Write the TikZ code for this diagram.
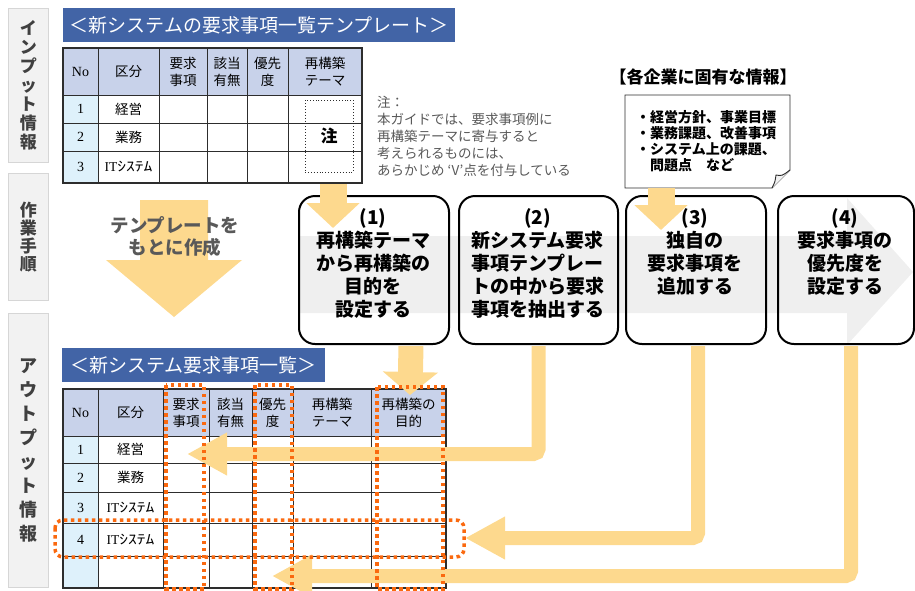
\documentclass[tikz,border=0pt]{standalone}
\usepackage{fontspec}
\setmainfont{Noto Sans CJK JP}
\newfontfamily\serifl{Liberation Serif}
\usetikzlibrary{arrows.meta}
\definecolor{titleblue}{RGB}{66,100,166}
\definecolor{hdrfill}{RGB}{200,210,234}
\definecolor{nofill}{RGB}{222,241,251}
\definecolor{lblfill}{RGB}{242,242,242}
\definecolor{lblborder}{RGB}{214,214,214}
\definecolor{flow}{RGB}{253,217,142}
\definecolor{dotorange}{RGB}{250,105,15}
\definecolor{bandgray}{RGB}{239,239,239}
\definecolor{txtgray}{RGB}{89,89,89}
\definecolor{lbltext}{RGB}{64,64,64}
\definecolor{gridc}{RGB}{45,45,45}
\newcommand{\fsz}[2]{\fontsize{#1}{#2}\selectfont}
\newcommand{\itsys}{{\serifl IT}\scalebox{1.3}[1]{ｼｽﾃﾑ}}
\begin{document}
\begin{tikzpicture}[x=1pt,y=-1pt,
  lbl/.style={draw=lblborder, fill=lblfill, line width=0.8pt, anchor=north west, inner sep=0pt, align=center, text=lbltext, font=\bfseries\fsz{17}{19}},
  titlebar/.style={fill=titleblue, text=white, anchor=north west, inner sep=0pt, font=\fsz{19}{19}},
  cell/.style={inner sep=0pt, align=center, font=\fsz{13.5}{17}, text=black},
  latin/.style={inner sep=0pt, font=\serifl\fsz{14}{16}, text=black},
  stepbox/.style={draw=black, line width=2pt, rounded corners=16pt, anchor=north west, inner sep=0pt, minimum height=148pt},
  steptext/.style={anchor=north, inner sep=0pt, align=center, font=\bfseries\fsz{19}{23}},
  vflow/.style={color=flow, line width=27pt, -{Triangle[length=25pt,width=52pt]}},
  vflowb/.style={color=flow, line width=25pt, -{Triangle[length=23pt,width=54pt]}},
  bflow/.style={color=flow, line width=14pt, rounded corners=5pt, -{Triangle[length=40pt,width=40pt]}},
  odot/.style={draw=dotorange, line width=3.5pt, dash pattern=on 3.5pt off 3.5pt},
  grid/.style={draw=gridc, line width=1pt}
]
\useasboundingbox (0,0) rectangle (915,590);
\clip (0,0) rectangle (915,590);

% side labels
\node[lbl, minimum width=40pt, minimum height=154pt] (lin) at (8,8) {イ\\ン\\プ\\ッ\\ト\\情\\報};
\node[lbl, minimum width=40pt, minimum height=127pt, font=\bfseries\fsz{17}{18}] (lwork) at (8,173) {作\\業\\手\\順};
\node[lbl, minimum width=40pt, minimum height=274pt, font=\bfseries\fsz{18}{24}] (lout) at (8,313) {ア\\ウ\\ト\\プ\\ッ\\ト\\情\\報};

% top title and table
\node[titlebar, minimum width=392pt, minimum height=34pt] (t1) at (63,8) {＜新システムの要求事項一覧テンプレート＞};
\fill[hdrfill] (63,48) rectangle (362,95);
\fill[nofill] (63,95) rectangle (98,183);
\foreach \x in {98,159,207,247,288} \draw[grid] (\x,48) -- (\x,183);
\foreach \y in {95,123,151} \draw[grid] (63,\y) -- (362,\y);
\draw[gridc, line width=1.5pt] (63,48) rectangle (362,183);
\node[latin] (tno) at (80.5,71.5) {No};
\node[cell] (tkb) at (128.5,71.5) {区分};
\node[cell] (tyk) at (183,71.5) {要求\\事項};
\node[cell] (tgt) at (227,71.5) {該当\\有無};
\node[cell] (tyu) at (267.5,71.5) {優先\\度};
\node[cell] (tsk) at (325,71.5) {再構築\\テーマ};
\node[latin] (tn1) at (80.5,109) {1}; \node[cell] (tc1) at (128.5,109) {経営};
\node[latin] (tn2) at (80.5,137) {2}; \node[cell] (tc2) at (128.5,137) {業務};
\node[latin] (tn3) at (80.5,167) {3}; \node[cell] (tc3) at (128.5,167) {\itsys};
\node[draw=gridc, dotted, line width=0.9pt, minimum width=48pt, minimum height=72pt, inner sep=0pt, font=\bfseries\fsz{17}{17}] (chu) at (329,136) {注};

% note
\node[anchor=north west, inner sep=0pt, align=left, text=txtgray, font=\fsz{13.5}{17}] (note) at (377,96) {注：\\本ガイドでは、要求事項例に\\再構築テーマに寄与すると\\考えられるものには、\\あらかじめ ‘V’点を付与している};

% company info
\node[inner sep=0pt, font=\bfseries\fsz{17}{17}] (infoh) at (703,77) {【各企業に固有な情報】};
\draw[draw=gridc, line width=0.9pt, fill=white] (625,95) -- (790,95) -- (790,170) -- (772,188) -- (625,188) -- cycle;
\draw[draw=gridc, line width=0.9pt, fill=lblfill] (772,188) .. controls (775,182) .. (776,175) .. controls (782,176) .. (790,170);
\node[anchor=north west, inner sep=0pt, align=left, font=\bfseries\fsz{14}{16}] (info) at (636,110) {・経営方針、事業目標\\・業務課題、改善事項\\・システム上の課題、\\　問題点　など};

% process band
\fill[bandgray] (300,236) -- (847,236) -- (847,198) -- (913,272) -- (847,345) -- (847,313) -- (300,313) -- cycle;

% template arrow
\fill[color=flow] (140,200) -- (208,200) -- (208,260) -- (242,260) -- (174,317) -- (106,260) -- (140,260) -- cycle;
\node[inner sep=0pt, align=center, text=txtgray, font=\bfseries\fsz{18.5}{22}] (tmpl) at (175,236) {テンプレートを\\もとに作成};

% step boxes
\node[stepbox, minimum width=150pt] (s1) at (298,195) {};
\node[stepbox, minimum width=159pt] (s2) at (458,195) {};
\node[stepbox, minimum width=140pt] (s3) at (625,195) {};
\node[stepbox, minimum width=136pt] (s4) at (777,195) {};
\node[steptext] (s1t) at (373,208.5) {(1)\\再構築テーマ\\から再構築の\\目的を\\設定する};
\node[steptext] (s2t) at (537.5,208.5) {(2)\\新システム要求\\事項テンプレー\\トの中から要求\\事項を抽出する};
\node[steptext] (s3t) at (695,208.5) {(3)\\独自の\\要求事項を\\追加する};
\node[steptext] (s4t) at (845,208.5) {(4)\\要求事項の\\優先度を\\設定する};

% input arrows
\coordinate (a1s) at (333,184); \coordinate (a1e) at (333,228);
\draw[vflow] (a1s) -- (a1e);
\coordinate (a3s) at (661,188); \coordinate (a3e) at (661,230);
\draw[vflow] (a3s) -- (a3e);

% bottom title and table
\node[titlebar, minimum width=263pt, minimum height=34pt] (t2) at (62,348) {＜新システム要求事項一覧＞};
\fill[hdrfill] (63,389) rectangle (446,436);
\fill[nofill] (63,436) rectangle (98,588);
\foreach \x in {98,163,209,252,293,371} \draw[grid] (\x,389) -- (\x,588);
\foreach \y in {436,463,492,523,556} \draw[grid] (63,\y) -- (446,\y);
\draw[gridc, line width=1.5pt] (63,389) rectangle (446,588);
\node[latin] (bno) at (80.5,412.5) {No};
\node[cell] (bkb) at (130.5,412.5) {区分};
\node[cell] (byk) at (186,412.5) {要求\\事項};
\node[cell] (bgt) at (230.5,412.5) {該当\\有無};
\node[cell] (byu) at (272.5,412.5) {優先\\度};
\node[cell] (bsk) at (332,412.5) {再構築\\テーマ};
\node[cell] (bmk) at (408.5,412.5) {再構築の\\目的};
\node[latin] (bn1) at (80.5,449.5) {1}; \node[cell] (bc1) at (130.5,449.5) {経営};
\node[latin] (bn2) at (80.5,477.5) {2}; \node[cell] (bc2) at (130.5,477.5) {業務};
\node[latin] (bn3) at (80.5,507.5) {3}; \node[cell] (bc3) at (130.5,507.5) {\itsys};
\node[latin] (bn4) at (80.5,539.5) {4}; \node[cell] (bc4) at (130.5,539.5) {\itsys};

% output arrows
\coordinate (a5e) at (410,395);
\draw[vflowb] ([xshift=37pt,yshift=-1pt]s1.south) -- (a5e);
\coordinate (b2e) at (187,454);
\draw[bflow] ([yshift=-1pt]s2.south) |- (b2e);
\coordinate (b3e) at (465,538);
\draw[bflow] ([xshift=2pt,yshift=-1pt]s3.south) |- (b3e);
\coordinate (b4e) at (272,576);
\draw[bflow] ([xshift=5pt,yshift=-1pt]s4.south) |- (b4e);

% orange dotted highlights
\draw[odot] (166,385) rectangle (204,589);
\draw[odot] (255,385) rectangle (292,589);
\draw[odot] (377,387) rectangle (443,589);
\draw[odot, rounded corners=8pt] (55,520) rectangle (464,557);
\end{tikzpicture}
\end{document}
